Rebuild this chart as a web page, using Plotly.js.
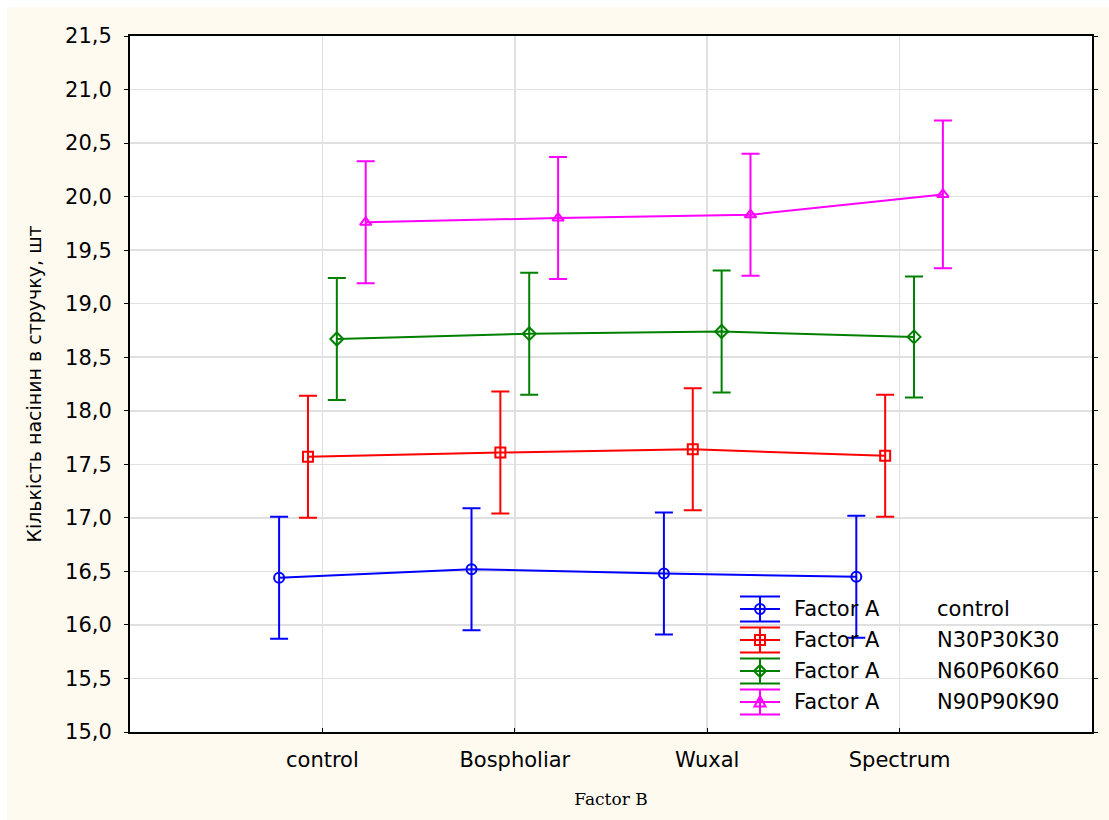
<!DOCTYPE html>
<html>
<head>
<meta charset="utf-8">
<script src="https://cdn.plot.ly/plotly-3.0.1.min.js"></script>
<style>
html,body{margin:0;padding:0;background:#ffffff;}
#chart{position:absolute;left:7px;top:7px;width:1102px;height:813px;}
</style>
</head>
<body>
<div id="chart"></div>
<script>
// ---- data ----
const categories = ['control', 'Bospholiar', 'Wuxal', 'Spectrum'];
const factorALevels = ['control', 'N30P30K30', 'N60P60K60', 'N90P90K90'];
const meanControl   = [16.44, 16.52, 16.48, 16.45];
const errControl    = [0.57, 0.57, 0.57, 0.57];
const meanN30       = [17.57, 17.61, 17.64, 17.58];
const errN30        = [0.57, 0.57, 0.57, 0.57];
const meanN60       = [18.67, 18.72, 18.74, 18.69];
const errN60        = [0.57, 0.57, 0.57, 0.565];
const meanN90       = [19.76, 19.80, 19.83, 20.02];
const errN90        = [0.57, 0.57, 0.57, 0.69];
const yTitle = 'Кількість насінин в стручку, шт';
const xTitle = 'Factor B';
const legendPrefix = 'Factor A';

// ---- style ----
const colors  = ['#0000ff', '#ff0000', '#008000', '#ff00ff'];
const symbols = ['circle-open', 'square-open', 'diamond-open', 'triangle-up-open'];
const offsets = [-0.225, -0.075, 0.075, 0.225];
const means = [meanControl, meanN30, meanN60, meanN90];
const errs  = [errControl, errN30, errN60, errN90];

const traces = means.map((m, s) => ({
  type: 'scatter',
  mode: 'lines+markers',
  x: categories.map((c, i) => i + 1 + offsets[s]),
  y: m,
  name: factorALevels[s],
  showlegend: false,
  line: {color: colors[s], width: 2},
  marker: {symbol: symbols[s], size: 10, color: colors[s], line: {width: 2, color: colors[s]}},
  error_y: {type: 'data', array: errs[s], visible: true, color: colors[s], thickness: 2, width: 9}
}));

// ---- custom legend (shapes + annotations, paper coords) ----
const plotL = 130, plotR = 1092, plotT = 36, plotB = 732;
const px2x = p => (p - plotL) / (plotR - plotL);
const px2y = p => (plotB - p) / (plotB - plotT);
const legendRows = [609, 640, 671, 702];
const shapes = [];
const annotations = [];
legendRows.forEach((ry, s) => {
  const ya = px2y(ry), xa = px2x(760);
  const base = {xref: 'paper', yref: 'paper', xsizemode: 'pixel', ysizemode: 'pixel',
                xanchor: xa, yanchor: ya, line: {color: colors[s], width: 2}};
  [-12.5, 0, 12.5].forEach(d => shapes.push(Object.assign({}, base, {type: 'line', x0: -20, x1: 20, y0: d, y1: d})));
  shapes.push(Object.assign({}, base, {type: 'line', x0: 0, x1: 0, y0: -12.5, y1: 12.5}));
  let mk;
  if (s === 0) mk = {type: 'circle', x0: -5, x1: 5, y0: -5, y1: 5};
  else if (s === 1) mk = {type: 'rect', x0: -5, x1: 5, y0: -5, y1: 5};
  else if (s === 2) mk = {type: 'path', path: 'M -6 0 L 0 6 L 6 0 L 0 -6 Z'};
  else mk = {type: 'path', path: 'M -5.5 -4.5 L 5.5 -4.5 L 0 6 Z'};
  shapes.push(Object.assign({}, base, mk));
  annotations.push({xref: 'paper', yref: 'paper', x: px2x(792), y: ya, xanchor: 'left', yanchor: 'middle',
    text: legendPrefix, showarrow: false, font: {family: 'DejaVu Sans, Arial', size: 21, color: '#000'}});
  annotations.push({xref: 'paper', yref: 'paper', x: px2x(935), y: ya, xanchor: 'left', yanchor: 'middle',
    text: factorALevels[s], showarrow: false, font: {family: 'DejaVu Sans, Arial', size: 21, color: '#000'}});
});

const layout = {
  width: 1102, height: 813,
  paper_bgcolor: '#fffaf0',
  plot_bgcolor: '#ffffff',
  margin: {l: 123, r: 17, t: 29, b: 88},
  separators: ', ',
  showlegend: false,
  font: {family: 'DejaVu Sans, Arial', size: 21, color: '#000'},
  xaxis: {
    range: [0, 5],
    tickvals: categories.map((c, i) => i + 1),
    ticktext: categories,
    showgrid: true, gridcolor: '#e0e0e0', gridwidth: 1.5,
    zeroline: false,
    showline: true, linecolor: '#000', linewidth: 2, mirror: true,
    ticks: 'inside', ticklen: 4, tickcolor: '#000',
    ticklabelstandoff: 8,
    tickfont: {family: 'DejaVu Sans, Arial', size: 21, color: '#000'},
    title: {text: xTitle, font: {family: 'DejaVu Serif, Liberation Serif, serif', size: 17, color: '#000'}, standoff: 22},
    automargin: false
  },
  yaxis: {
    range: [15, 21.5],
    dtick: 0.5, tick0: 15,
    tickformat: '.1f',
    showgrid: true, gridcolor: '#e0e0e0', gridwidth: 1.5,
    zeroline: false,
    showline: true, linecolor: '#000', linewidth: 2, mirror: 'ticks',
    ticks: 'outside', ticklen: 4, tickcolor: '#000',
    ticklabelstandoff: 8,
    tickfont: {family: 'DejaVu Sans, Arial', size: 21, color: '#000'},
    title: {text: yTitle, font: {family: 'DejaVu Sans, Arial', size: 19, color: '#000'}, standoff: 18},
    automargin: false
  },
  shapes: shapes,
  annotations: annotations
};

Plotly.newPlot('chart', traces, layout, {displayModeBar: false, staticPlot: true});
</script>
</body>
</html>
